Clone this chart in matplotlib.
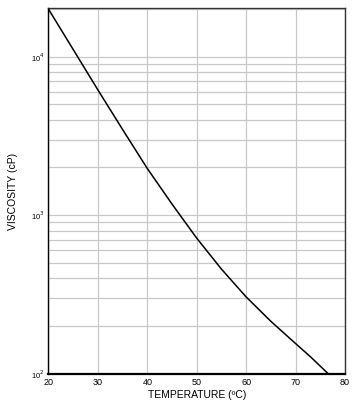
import matplotlib
matplotlib.use('Agg')
from matplotlib import pyplot as plt
from matplotlib.ticker import LogLocator, FixedLocator, NullFormatter
import numpy as np

# temperature (C) vs viscosity (cP)
temp = [20, 25, 30, 35, 40, 45, 50, 55, 60, 65, 70, 73, 76.6]
visc = [19950, 11100, 6170, 3470, 1970, 1175, 716, 457, 305, 214, 155, 128, 100]

x_ticks = [20, 30, 40, 50, 60, 70, 80]
y_ticks = [1e2, 1e3, 1e4]
y_labels = ['10$^2$', '10$^3$', '10$^4$']

plt.rcParams['font.family'] = ['Liberation Sans', 'DejaVu Sans']

fig = plt.figure(figsize=(3.63, 4.15), dpi=100)
ax = fig.add_axes([0.1336, 0.0995, 0.8168, 0.8805])

ax.plot(temp, visc, color='black', lw=1.1, zorder=3)

ax.set_yscale('log')
ax.set_xlim(20, 80)
ax.set_ylim(100, 20200)

ax.xaxis.set_major_locator(FixedLocator(x_ticks))
ax.yaxis.set_major_locator(FixedLocator(y_ticks))
ax.set_yticklabels(y_labels)
ax.yaxis.set_minor_locator(LogLocator(base=10, subs=np.arange(2, 10)))
ax.yaxis.set_minor_formatter(NullFormatter())

ax.grid(True, which='both', axis='y', color='#c8c8c8', lw=0.9)
ax.grid(True, which='major', axis='x', color='#c8c8c8', lw=0.9)
ax.set_axisbelow(True)

ax.tick_params(axis='both', which='both', length=0, labelsize=6.5, pad=3)
ax.tick_params(axis='y', labelsize=5.5)

for side in ['left', 'bottom']:
    ax.spines[side].set_color('black')
ax.spines['bottom'].set_linewidth(1.6)
ax.spines['left'].set_linewidth(1.0)
for side in ['top', 'right']:
    ax.spines[side].set_color('#333333')
    ax.spines[side].set_linewidth(1.0)

ax.set_xlabel('TEMPERATURE (ºC)', fontsize=7.5, labelpad=2)
ax.set_ylabel('VISCOSITY (cP)', fontsize=7.5, labelpad=9)

fig.savefig('out.png', dpi=100)
